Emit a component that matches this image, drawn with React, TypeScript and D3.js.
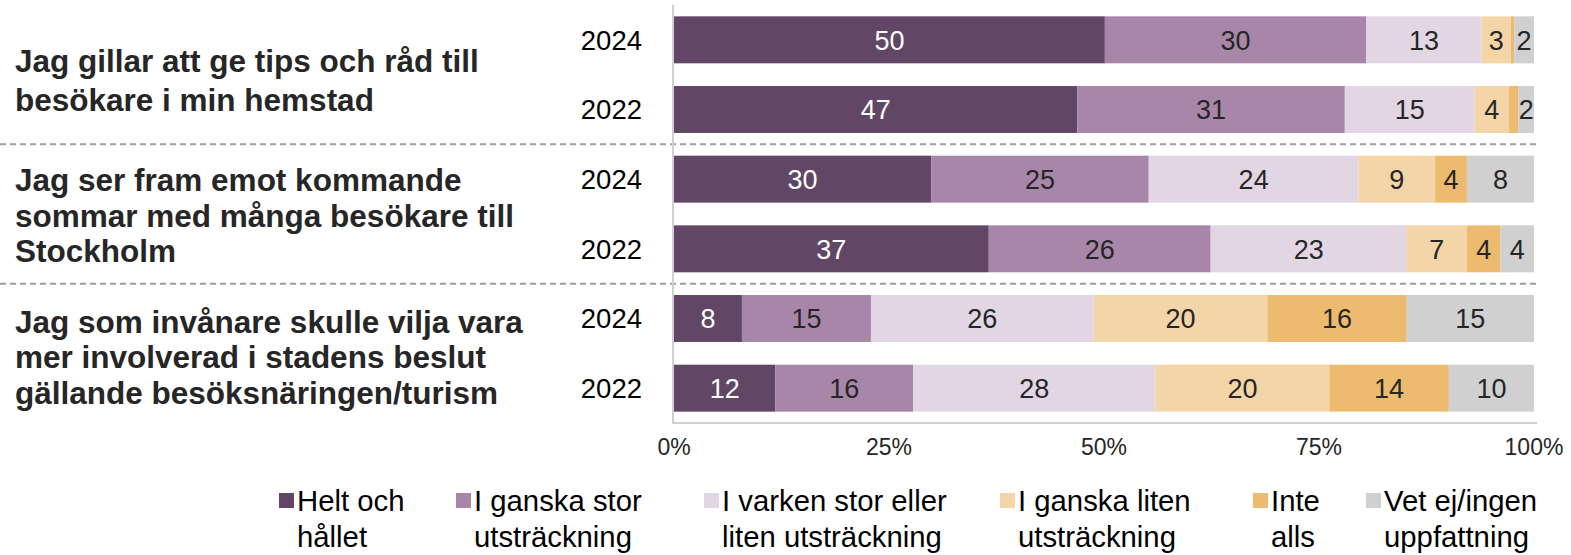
import React from "react";
import * as d3 from "d3";

const questions = [
  ["Jag gillar att ge tips och råd till", "besökare i min hemstad"],
  ["Jag ser fram emot kommande", "sommar med många besökare till", "Stockholm"],
  ["Jag som invånare skulle vilja vara", "mer involverad i stadens beslut", "gällande besöksnäringen/turism"],
];
const years = ["2024", "2022"];
const categories = [
  "Helt och hållet",
  "I ganska stor utsträckning",
  "I varken stor eller liten utsträckning",
  "I ganska liten utsträckning",
  "Inte alls",
  "Vet ej/ingen uppfattning",
];
const legendLines = [
  ["Helt och", "hållet"],
  ["I ganska stor", "utsträckning"],
  ["I varken stor eller", "liten utsträckning"],
  ["I ganska liten", "utsträckning"],
  ["Inte", "alls"],
  ["Vet ej/ingen", "uppfattning"],
];
// rows: Q1 2024, Q1 2022, Q2 2024, Q2 2022, Q3 2024, Q3 2022
const heltOchHallet = [50.1, 46.9, 29.9, 36.6, 7.9, 11.8];
const ganskaStor = [30.4, 31.1, 25.3, 25.8, 15.0, 16.0];
const varken = [13.4, 15.1, 24.4, 22.8, 25.9, 28.2];
const ganskaLiten = [3.4, 4.0, 8.9, 7.0, 20.2, 20.2];
const inteAlls = [0.4, 1.1, 3.7, 3.9, 16.2, 13.9];
const vetEj = [2.3, 1.8, 7.8, 3.9, 14.8, 9.9];
const ticks = [0, 25, 50, 75, 100];

const colors = ["#614665", "#a886a9", "#e2d6e4", "#f3d5a8", "#ecbb70", "#d0d0d0"];
const seriesValues = [heltOchHallet, ganskaStor, varken, ganskaLiten, inteAlls, vetEj];

const FONT = "'Liberation Sans', Arial, sans-serif";

export default function App() {
  const W = 1571, H = 555;
  const rowKeys = questions.flatMap((_, qi) => years.map((y) => `${qi}-${y}`));
  const rows = rowKeys.map((key, i) => {
    const o: any = { key };
    categories.forEach((c, ci) => (o[c] = seriesValues[ci][i]));
    return o;
  });
  const stack = d3.stack<any>().keys(categories)(rows);
  const x = d3.scaleLinear().domain([0, 100]).range([674, 1534]);
  const y = d3.scaleBand<string>().domain(rowKeys).range([5, 423]).paddingInner(0.326).paddingOuter(0.163);
  const bw = y.bandwidth();

  const legendX = [279, 456, 704, 1000, 1253, 1366];
  const qLineHeight = [39, 35.5, 35.5];
  const qOffset = [5.5, 1.5, 3.5];

  return (
    <svg width={W} height={H} style={{ position: "absolute", left: 0, top: 0 }} fontFamily={FONT}>
      <rect width={W} height={H} fill="#fff" />
      {/* separators */}
      {[1, 2].map((qi) => {
        const yy = (y(`${qi - 1}-2022`)! + bw + y(`${qi}-2024`)!) / 2;
        return (
          <line key={qi} x1={0} x2={1537} y1={yy} y2={yy} stroke="#a0a0a0" strokeWidth={2} strokeDasharray="6,4" />
        );
      })}
      {/* bars */}
      {stack.map((s, ci) => (
        <g key={ci}>
          {s.map((d, ri) => {
            const x0 = x(d[0]), x1 = x(d[1]);
            const v = seriesValues[ci][ri];
            const yy = y(rowKeys[ri])!;
            return (
              <g key={ri}>
                <rect x={x0} y={yy} width={x1 - x0} height={bw} fill={colors[ci]} />
                {v >= 1.5 && (
                  <text
                    x={(x0 + x1) / 2}
                    y={yy + bw / 2}
                    dy="0.36em"
                    textAnchor="middle"
                    fontSize={27}
                    fill={ci === 0 ? "#ffffff" : "#262626"}
                  >
                    {Math.round(v)}
                  </text>
                )}
              </g>
            );
          })}
        </g>
      ))}
      {/* axes */}
      <line x1={673} x2={673} y1={5} y2={424} stroke="#d0d0d0" strokeWidth={2} />
      <line x1={672} x2={1537} y1={423} y2={423} stroke="#d0d0d0" strokeWidth={2} />
      {ticks.map((t) => (
        <text key={t} x={x(t)} y={447} dy="0.36em" textAnchor="middle" fontSize={23} fill="#262626">
          {t}%
        </text>
      ))}
      {/* year labels */}
      {rowKeys.map((k) => (
        <text key={k} x={642} y={y(k)! + bw / 2} dy="0.36em" textAnchor="end" fontSize={27.5} fill="#000">
          {k.split("-")[1]}
        </text>
      ))}
      {/* question labels */}
      {questions.map((lines, qi) => {
        const c = (y(`${qi}-2024`)! + y(`${qi}-2022`)! + bw) / 2 + qOffset[qi];
        const lh = qLineHeight[qi];
        const start = c - ((lines.length - 1) * lh) / 2;
        return lines.map((l, li) => (
          <text key={`${qi}-${li}`} x={15} y={start + li * lh} dy="0.36em" fontSize={31.5} fontWeight="bold" fill="#262626">
            {l}
          </text>
        ));
      })}
      {/* legend */}
      {categories.map((c, ci) => (
        <g key={c}>
          <rect x={legendX[ci]} y={493} width={15} height={15} fill={colors[ci]} />
          {legendLines[ci].map((l, li) => (
            <text key={li} x={legendX[ci] + 18} y={500 + li * 36.5} dy="0.36em" fontSize={29.3} fill="#000">
              {l}
            </text>
          ))}
        </g>
      ))}
    </svg>
  );
}
